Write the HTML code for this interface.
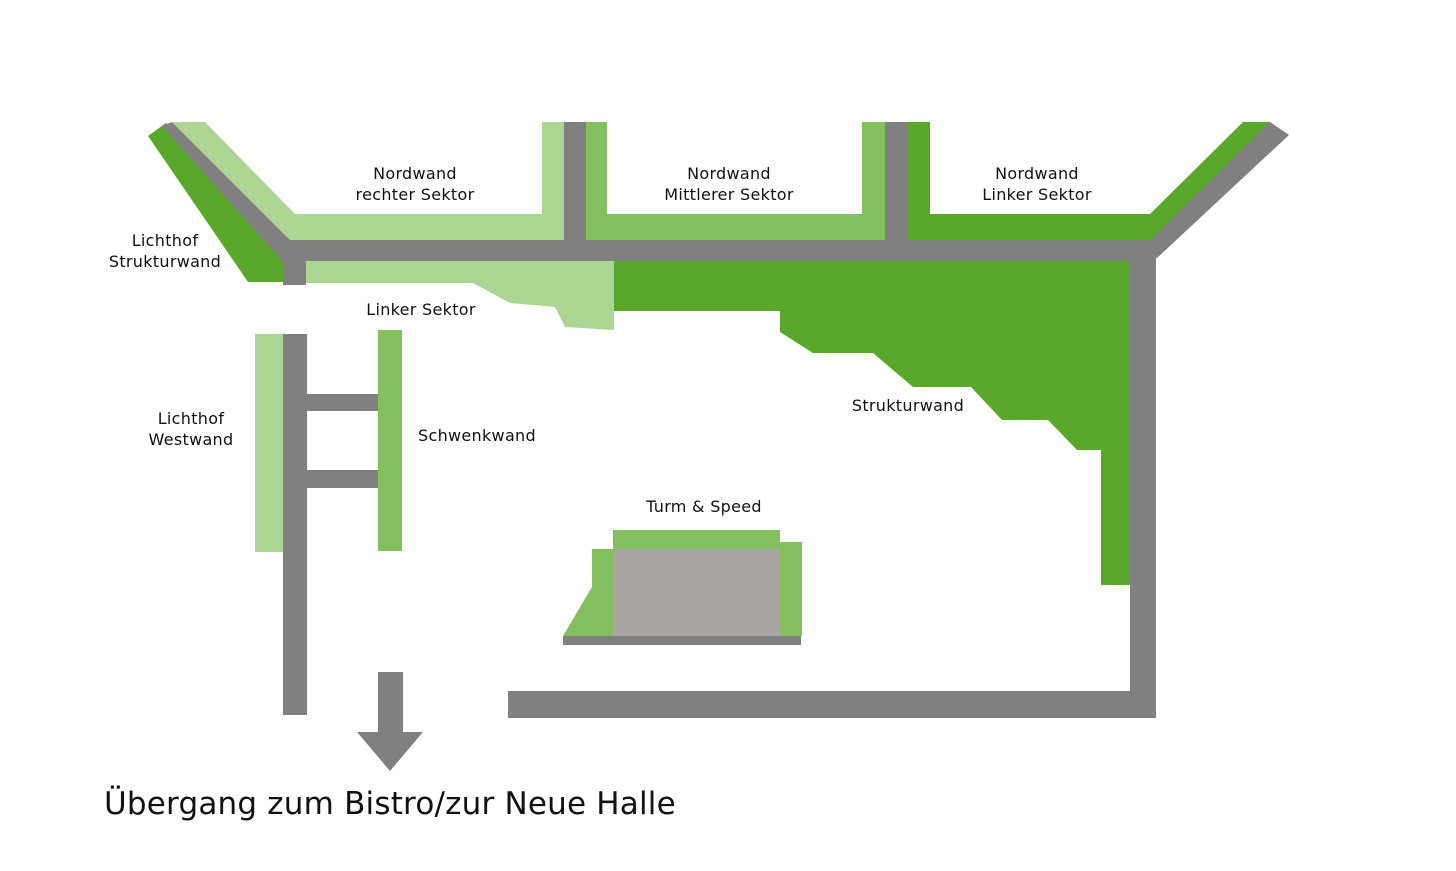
<!DOCTYPE html>
<html><head><meta charset="utf-8"><style>
html,body{margin:0;padding:0;background:#fff;}
svg text{font-family:"DejaVu Sans","Liberation Sans",sans-serif;fill:#111;}
</style></head><body>
<svg width="1456" height="866" viewBox="0 0 1456 866" xmlns="http://www.w3.org/2000/svg">
<rect width="1456" height="866" fill="#fff"/>
<polygon points="148,136 166,123 290,240 283,282 248,282" fill="#5aa82a"/>
<polygon points="172,122 205,122 295,214 542,214 542,122 564,122 564,240 290,240" fill="#acd594"/>
<polygon points="162,126 172,122 290,240 306,240 306,262 283,262" fill="#808080"/>
<rect x="283" y="240" width="872" height="21" fill="#808080"/>
<rect x="283" y="255" width="23" height="30" fill="#808080"/>
<rect x="564" y="122" width="22" height="120" fill="#808080"/>
<polygon points="586,122 607,122 607,214 862,214 862,122 885,122 885,240 586,240" fill="#84bf5e"/>
<rect x="885" y="122" width="22" height="120" fill="#808080"/>
<polygon points="907,122 930,122 930,214 1150,214 1243,122 1270,122 1155,240 907,240" fill="#5aa82a"/>
<polygon points="1270,122 1289,135 1157,258 1140,250 1150,240" fill="#808080"/>
<rect x="1130" y="240" width="26" height="478" fill="#808080"/>
<rect x="508" y="691" width="648" height="27" fill="#808080"/>
<polygon points="306,261 614,261 614,330 565,327 555,307 510,303 473,283 306,283" fill="#acd594"/>
<polygon points="614,261 1130,261 1130,585 1101,585 1101,450 1077,450 1048,420 1002,420 971,387 913,387 873,353 813,353 780,332 780,311 614,311" fill="#5aa82a"/>
<rect x="255" y="334" width="28" height="218" fill="#acd594"/>
<rect x="283" y="334" width="24" height="381" fill="#808080"/>
<rect x="307" y="394" width="71" height="17" fill="#808080"/>
<rect x="307" y="470" width="71" height="18" fill="#808080"/>
<rect x="378" y="330" width="24" height="221" fill="#84bf5e"/>
<rect x="378" y="672" width="25" height="61" fill="#808080"/>
<polygon points="357,732 423,732 390,771" fill="#808080"/>
<rect x="613" y="530" width="167" height="19" fill="#84bf5e"/>
<rect x="613" y="549" width="167" height="87" fill="#a8a5a3"/>
<polygon points="592,549 613,549 613,636 563,636 592,587" fill="#84bf5e"/>
<rect x="780" y="542" width="22" height="94" fill="#84bf5e"/>
<rect x="563" y="636" width="238" height="9" fill="#808080"/>
<g font-size="16" text-anchor="middle" letter-spacing="0.3">
<text x="415" y="179">Nordwand</text><text x="415" y="200">rechter Sektor</text>
<text x="729" y="179">Nordwand</text><text x="729" y="200">Mittlerer Sektor</text>
<text x="1037" y="179">Nordwand</text><text x="1037" y="200">Linker Sektor</text>
<text x="165" y="246">Lichthof</text><text x="165" y="267">Strukturwand</text>
<text x="421" y="315">Linker Sektor</text>
<text x="191" y="424">Lichthof</text><text x="191" y="445">Westwand</text>
<text x="477" y="441">Schwenkwand</text>
<text x="908" y="411">Strukturwand</text>
<text x="704" y="512">Turm &amp; Speed</text>
</g>
<text x="104" y="814" font-size="31" letter-spacing="0.2">Übergang zum Bistro/zur Neue Halle</text>
</svg>
</body></html>
